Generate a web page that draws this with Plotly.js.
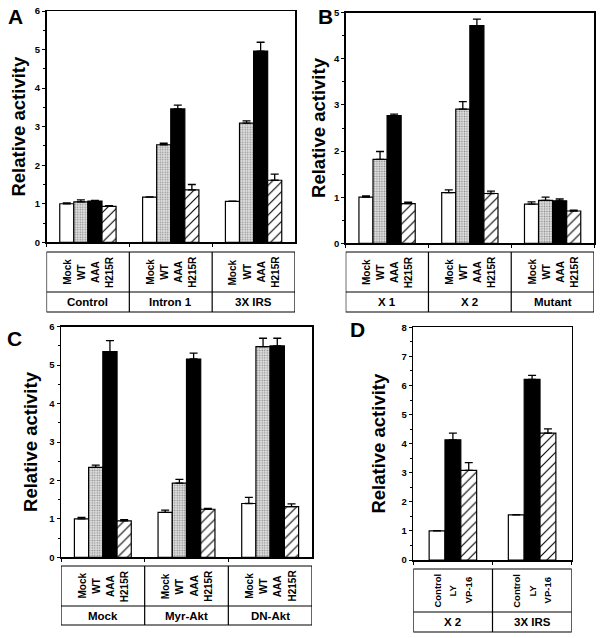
<!DOCTYPE html>
<html>
<head>
<meta charset="utf-8">
<script src="https://cdn.plot.ly/plotly-3.0.1.min.js"></script>
<style>body{margin:0;background:#fff}</style>
</head>
<body>
<div id="chart" style="width:602px;height:638px"></div>
<script>
// Tratamientos (paneles A, B, C)
var tratamientos = ['Mock', 'WT', 'AAA', 'H215R'];

// Panel A
var gruposA = ['Control', 'Intron 1', '3X IRS'];
var valoresA = [
  [1.00, 1.17, 1.06],   // Mock
  [1.05, 2.53, 3.09],   // WT
  [1.07, 3.46, 4.96],   // AAA
  [0.93, 1.36, 1.61]    // H215R
];
var erroresA = [
  [0.02, 0.01, 0.01],
  [0.05, 0.04, 0.06],
  [0.02, 0.10, 0.23],
  [0.02, 0.14, 0.16]
];

// Panel B
var gruposB = ['X 1', 'X 2', 'Mutant'];
var valoresB = [
  [1.00, 1.10, 0.85],
  [1.82, 2.91, 0.93],
  [2.77, 4.72, 0.92],
  [0.86, 1.08, 0.70]
];
var erroresB = [
  [0.03, 0.06, 0.05],
  [0.17, 0.16, 0.07],
  [0.03, 0.14, 0.04],
  [0.03, 0.05, 0.02]
];

// Panel C
var gruposC = ['Mock', 'Myr-Akt', 'DN-Akt'];
var valoresC = [
  [1.00, 1.17, 1.40],
  [2.34, 1.93, 5.48],
  [5.35, 5.16, 5.50],
  [0.95, 1.25, 1.32]
];
var erroresC = [
  [0.04, 0.06, 0.16],
  [0.06, 0.10, 0.22],
  [0.29, 0.15, 0.20],
  [0.03, 0.02, 0.07]
];

// Panel D
var tratamientosD = ['Control', 'LY', 'VP-16'];
var gruposD = ['X 2', '3X IRS'];
var valoresD = [
  [1.00, 1.55],
  [4.13, 6.21],
  [3.08, 4.36]
];
var erroresD = [
  [0.01, 0.01],
  [0.23, 0.14],
  [0.27, 0.15]
];

var ALTO = 638, ANCHO = 602;
var fuente = 'Liberation Sans, Arial, sans-serif';

// estilos de relleno
var blanco = {color: '#ffffff', line: {color: '#000', width: 1.2}};
var gris = {color: '#d6d6d6', line: {color: '#000', width: 1.2},
  pattern: {shape: '.', fgcolor: '#8a8a8a', bgcolor: '#e2e2e2', size: 2.5, solidity: 0.3}};
var negro = {color: '#000000', line: {color: '#000', width: 1.2}};
var rayas = {color: '#ffffff', line: {color: '#000', width: 1.2},
  pattern: {shape: '/', fgcolor: '#000', bgcolor: '#fff', size: 7, solidity: 0.16}};

var estilos4 = [blanco, gris, negro, rayas];
var estilos3 = [blanco, negro, rayas];

function py(p) { return 1 - p / ALTO; }

var data = [];
var anotaciones = [];
var formas = [];

function panel(n, grupos, nombres, valores, errores, estilos, ancho, tabla, tam) {
  var k = nombres.length;
  var inicio = -ancho * k / 2;
  for (var t = 0; t < k; t++) {
    data.push({
      type: 'bar', x: grupos, y: valores[t], name: nombres[t],
      xaxis: 'x' + n, yaxis: 'y' + n,
      offset: inicio + t * ancho, width: ancho,
      marker: estilos[t], showlegend: false,
      error_y: {type: 'data', symmetric: false, array: errores[t],
        arrayminus: errores[t].map(function () { return 0; }),
        color: '#000', thickness: 1.3, width: 4}
    });
    // etiquetas giradas de la tabla
    for (var g = 0; g < grupos.length; g++) {
      anotaciones.push({
        xref: 'x' + n, yref: 'paper', x: g + inicio + (t + 0.5) * ancho, y: py((tabla[0] + tabla[1]) / 2),
        xanchor: 'center', yanchor: 'middle',
        text: '<b>' + nombres[t] + '</b>', textangle: -90, showarrow: false,
        font: {family: fuente, size: tam, color: '#000'}
      });
    }
  }
  // nombres de grupo
  for (var g = 0; g < grupos.length; g++) {
    anotaciones.push({
      xref: 'x' + n, yref: 'paper', x: g, y: py((tabla[1] + tabla[2]) / 2),
      xanchor: 'center', yanchor: 'middle',
      text: '<b>' + grupos[g] + '</b>', showarrow: false,
      font: {family: fuente, size: 11.5, color: '#000'}
    });
  }
  // cuadro de la tabla
  var lin = {color: '#000', width: 1.2};
  formas.push({type: 'rect', xref: 'x' + n, yref: 'paper', x0: -0.5, x1: grupos.length - 0.5,
    y0: py(tabla[2]), y1: py(tabla[0]), line: lin});
  formas.push({type: 'line', xref: 'x' + n, yref: 'paper', x0: -0.5, x1: grupos.length - 0.5,
    y0: py(tabla[1]), y1: py(tabla[1]), line: lin});
  for (var g = 1; g < grupos.length; g++) {
    formas.push({type: 'line', xref: 'x' + n, yref: 'paper', x0: g - 0.5, x1: g - 0.5,
      y0: py(tabla[2]), y1: py(tabla[0]), line: lin});
  }
}

panel(1, gruposA, tratamientos, valoresA, erroresA, estilos4, 0.17, [252, 292, 312], 10);
panel(2, gruposB, tratamientos, valoresB, erroresB, estilos4, 0.17, [252, 292, 312], 10);
panel(3, gruposC, tratamientos, valoresC, erroresC, estilos4, 0.17, [566, 606, 625], 10);
panel(4, gruposD, tratamientosD, valoresD, erroresD, estilos3, 0.2, [569, 612, 632], 9.5);

// letras de panel
var letras = [['A', 15, 17], ['B', 325, 17], ['C', 14, 338], ['D', 357, 329]];
letras.forEach(function (l) {
  anotaciones.push({xref: 'paper', yref: 'paper', x: l[1] / ANCHO, y: py(l[2]),
    xanchor: 'center', yanchor: 'middle', text: '<b>' + l[0] + '</b>',
    showarrow: false, font: {family: fuente, size: 21, color: '#000'}});
});

function ejeX(dom, n, k) {
  return {domain: [dom[0] / ANCHO, dom[1] / ANCHO], anchor: 'y' + k, type: 'category', range: [-0.5, n - 0.5],
    showline: true, linecolor: '#000', linewidth: 1.5, mirror: true,
    ticks: 'outside', tickson: 'boundaries', ticklen: 3, tickcolor: '#000',
    showticklabels: false, showgrid: false, fixedrange: true};
}
function ejeY(dom, max, standoff, k) {
  return {domain: [py(dom[1]), py(dom[0])], anchor: 'x' + k, range: [0, max], dtick: 1,
    showline: true, linecolor: '#000', linewidth: 1.5, mirror: true,
    ticks: 'outside', ticklen: 3, tickcolor: '#000',
    minor: {dtick: 0.5, ticks: 'outside', ticklen: 2, tickcolor: '#000'},
    showgrid: false, zeroline: false,
    tickfont: {family: fuente, size: 9.5, weight: 'bold', color: '#000'},
    title: {text: '<b>Relative activity</b>', standoff: standoff,
      font: {family: fuente, size: 18.5, color: '#000'}}};
}

var layout = {
  width: ANCHO, height: ALTO,
  margin: {l: 0, r: 0, t: 0, b: 0},
  paper_bgcolor: '#fff', plot_bgcolor: '#fff',
  barmode: 'overlay',
  xaxis: ejeX([46.5, 295], 3, ''), yaxis: ejeY([11, 242.3], 6, 4, ''),
  xaxis2: ejeX([345.7, 594], 3, 2), yaxis2: ejeY([12.7, 243.3], 5, 3, 2),
  xaxis3: ejeX([61, 312], 3, 3), yaxis3: ejeY([326.7, 557.3], 6, 7, 3),
  xaxis4: ejeX([413.3, 571.7], 2, 4), yaxis4: ejeY([327.3, 560], 8, 11, 4),
  annotations: anotaciones,
  shapes: formas
};

Plotly.newPlot('chart', data, layout, {displayModeBar: false, staticPlot: true});
</script>
</body>
</html>
